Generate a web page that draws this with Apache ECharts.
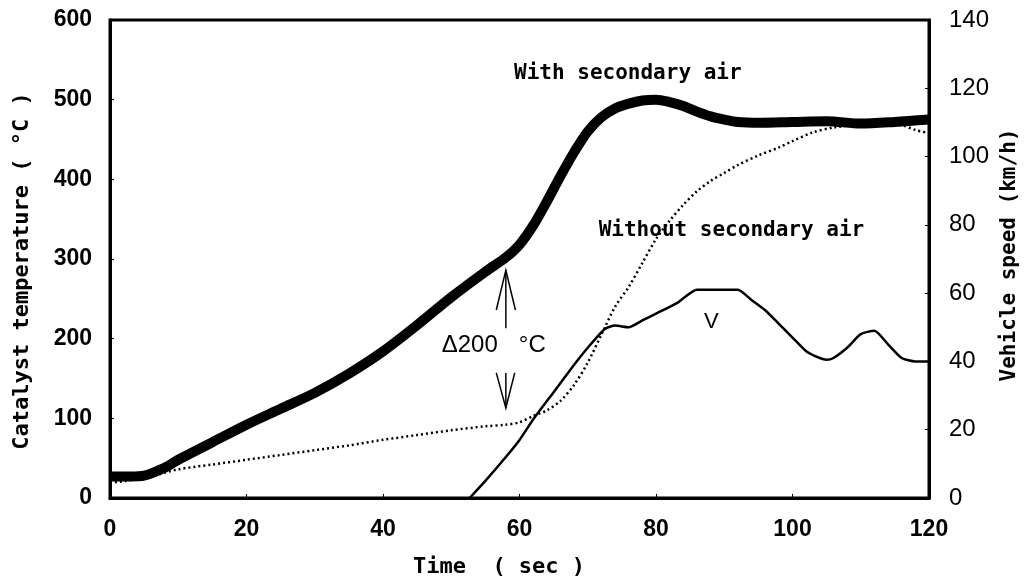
<!DOCTYPE html>
<html>
<head>
<meta charset="utf-8">
<script src="https://cdn.jsdelivr.net/npm/echarts@6/dist/echarts.min.js"></script>
<style>
html,body{margin:0;padding:0;background:#fff;}
#chart{width:1025px;height:582px;}
</style>
</head>
<body>
<div id="chart"></div>
<script>
// ---- data ----
var xTicks = [0, 20, 40, 60, 80, 100, 120];

var timeWith = [0,3,5,8,10,15,20,25,30,35,40,45,50,55,58,60,62,64,66,68,70,72,74,76,78,80,82,84,86,88,90,92,95,100,105,110,115,120];
var tempWith = [27,27,28,38,48,70,92,112,132,156,184,217,252,284,302,318,342,372,404,434,460,478,489,495,499,500,497,492,485,479,475,472,471,472,473,470,472,475];

var timeWithout = [0,5,10,15,20,25,30,35,40,45,50,55,58,60,62,64,66,68,70,72,74,76,78,80,82,84,86,88,90,92,95,98,100,103,106,110,113,116,118,120];
var tempWithout = [19,25,36,42,48,54,60,66,73,79,85,90,92,95,103,110,122,142,170,205,240,265,295,325,348,368,385,398,408,418,430,440,448,459,465,469,470,468,462,458];

var timeSpeed = [52.7,55,58,60,62,65,68,70,72.5,74,76,78,80,83,86,88,90,92,94,96,98,100,102,104,105,106,108,110,112,114,116,118,120];
var speed = [0,5,12,17,23,31,39,44,49.5,50.5,50,52,54,57,61,61,61,61,58,55,51,47,43,41,40.5,41,44,48,49,45,41,40,40];

function pairs(xs, ys){ return xs.map(function(x,i){ return [x, ys[i]]; }); }

var chart = echarts.init(document.getElementById('chart'), null, {renderer:'canvas'});
var monoFont = '"DejaVu Sans Mono", "Liberation Mono", monospace';
var sansFont = '"Liberation Sans", Arial, sans-serif';

var option = {
  backgroundColor: '#fff',
  animation: false,
  grid: { left: 110, right: 96, top: 20, bottom: 84, show: true, borderColor: '#000', borderWidth: 3, backgroundColor: 'transparent' },
  xAxis: {
    type: 'value', min: 0, max: 120, interval: 20,
    axisLine: { show: true, lineStyle: { color: '#000', width: 3 } },
    axisTick: { show: true, inside: true, length: 4, lineStyle: { color: '#000', width: 1 } },
    splitLine: { show: false },
    axisLabel: { color: '#000', fontSize: 23, fontWeight: 'bold', fontFamily: sansFont, margin: 20 }
  },
  yAxis: [
    {
      type: 'value', min: 0, max: 600, interval: 100,
      axisLine: { show: true, lineStyle: { color: '#000', width: 3 } },
      axisTick: { show: true, inside: true, length: 4, lineStyle: { color: '#000', width: 1 } },
      splitLine: { show: false },
      axisLabel: { color: '#000', fontSize: 23, fontWeight: 'bold', fontFamily: sansFont, margin: 18 }
    },
    {
      type: 'value', min: 0, max: 140, interval: 20, position: 'right',
      axisLine: { show: true, lineStyle: { color: '#000', width: 3 } },
      axisTick: { show: true, inside: true, length: 4, lineStyle: { color: '#000', width: 1 } },
      splitLine: { show: false },
      axisLabel: { color: '#000', fontSize: 24, fontFamily: sansFont, margin: 20 }
    }
  ],
  series: [
    {
      name: 'With secondary air', type: 'line', yAxisIndex: 0, showSymbol: false, smooth: 0.3,
      data: pairs(timeWith, tempWith),
      lineStyle: { color: '#000', width: 10 }, z: 3
    },
    {
      name: 'Without secondary air', type: 'line', yAxisIndex: 0, showSymbol: false, smooth: 0.3,
      data: pairs(timeWithout, tempWithout),
      lineStyle: { color: '#000', width: 2.5, type: [2, 3] }, z: 4
    },
    {
      name: 'V', type: 'line', yAxisIndex: 1, showSymbol: false, smooth: 0.2,
      data: pairs(timeSpeed, speed),
      lineStyle: { color: '#000', width: 2.5 }, z: 5
    }
  ]
};
chart.setOption(option);

// annotation anchors in data coordinates (time, temperature)
var annos = [
  { text: 'With secondary air', at: [59.2, 533], font: monoFont, size: 21, weight: 'bold', align: 'left' },
  { text: 'Without secondary air', at: [71.6, 336], font: monoFont, size: 21, weight: 'bold', align: 'left' },
  { text: 'V', at: [88.1, 221], font: sansFont, size: 22, weight: 'normal', align: 'center' },
  { text: '\u0394200', at: [48.6, 192], font: sansFont, size: 24, weight: 'normal', align: 'left' },
  { text: '\u00B0C', at: [59.9, 192], font: sansFont, size: 24, weight: 'normal', align: 'left' }
];
var upArrow = { tip: [58, 286], base: [58, 213], wingL: [56.6, 236], wingR: [59.4, 236] };
var downArrow = { tip: [58, 113], base: [58, 157], wingL: [56.6, 157], wingR: [59.3, 157] };

function px(p){ return chart.convertToPixel({ xAxisIndex: 0, yAxisIndex: 0 }, p); }

var g = [];
annos.forEach(function(a){
  var p = px(a.at);
  g.push({ type: 'text', x: p[0], y: p[1], z: 10,
    style: { text: a.text, fill: '#000', font: a.weight + ' ' + a.size + 'px ' + a.font, textAlign: a.align, textVerticalAlign: 'middle' } });
});
[upArrow, downArrow].forEach(function(ar){
  var t = px(ar.tip), b = px(ar.base), l = px(ar.wingL), r = px(ar.wingR);
  g.push({ type: 'polyline', z: 10, shape: { points: [b, t] }, style: { stroke: '#000', lineWidth: 1.5, fill: null } });
  g.push({ type: 'polyline', z: 10, shape: { points: [l, t, r] }, style: { stroke: '#000', lineWidth: 1.5, fill: null } });
});
// axis titles
g.push({ type: 'text', x: 22, y: 271, rotation: Math.PI / 2, z: 10,
  style: { text: 'Catalyst temperature ( \u00B0C )', fill: '#000', font: 'bold 22px ' + monoFont, textAlign: 'center', textVerticalAlign: 'middle' } });
g.push({ type: 'text', x: 1010, y: 255, rotation: Math.PI / 2, z: 10,
  style: { text: 'Vehicle speed (km/h)', fill: '#000', font: 'bold 21px ' + monoFont, textAlign: 'center', textVerticalAlign: 'middle' } });
g.push({ type: 'text', x: 499, y: 567, z: 10,
  style: { text: 'Time  ( sec )', fill: '#000', font: 'bold 22px ' + monoFont, textAlign: 'center', textVerticalAlign: 'middle' } });

chart.setOption({ graphic: { elements: g } });
</script>
</body>
</html>
